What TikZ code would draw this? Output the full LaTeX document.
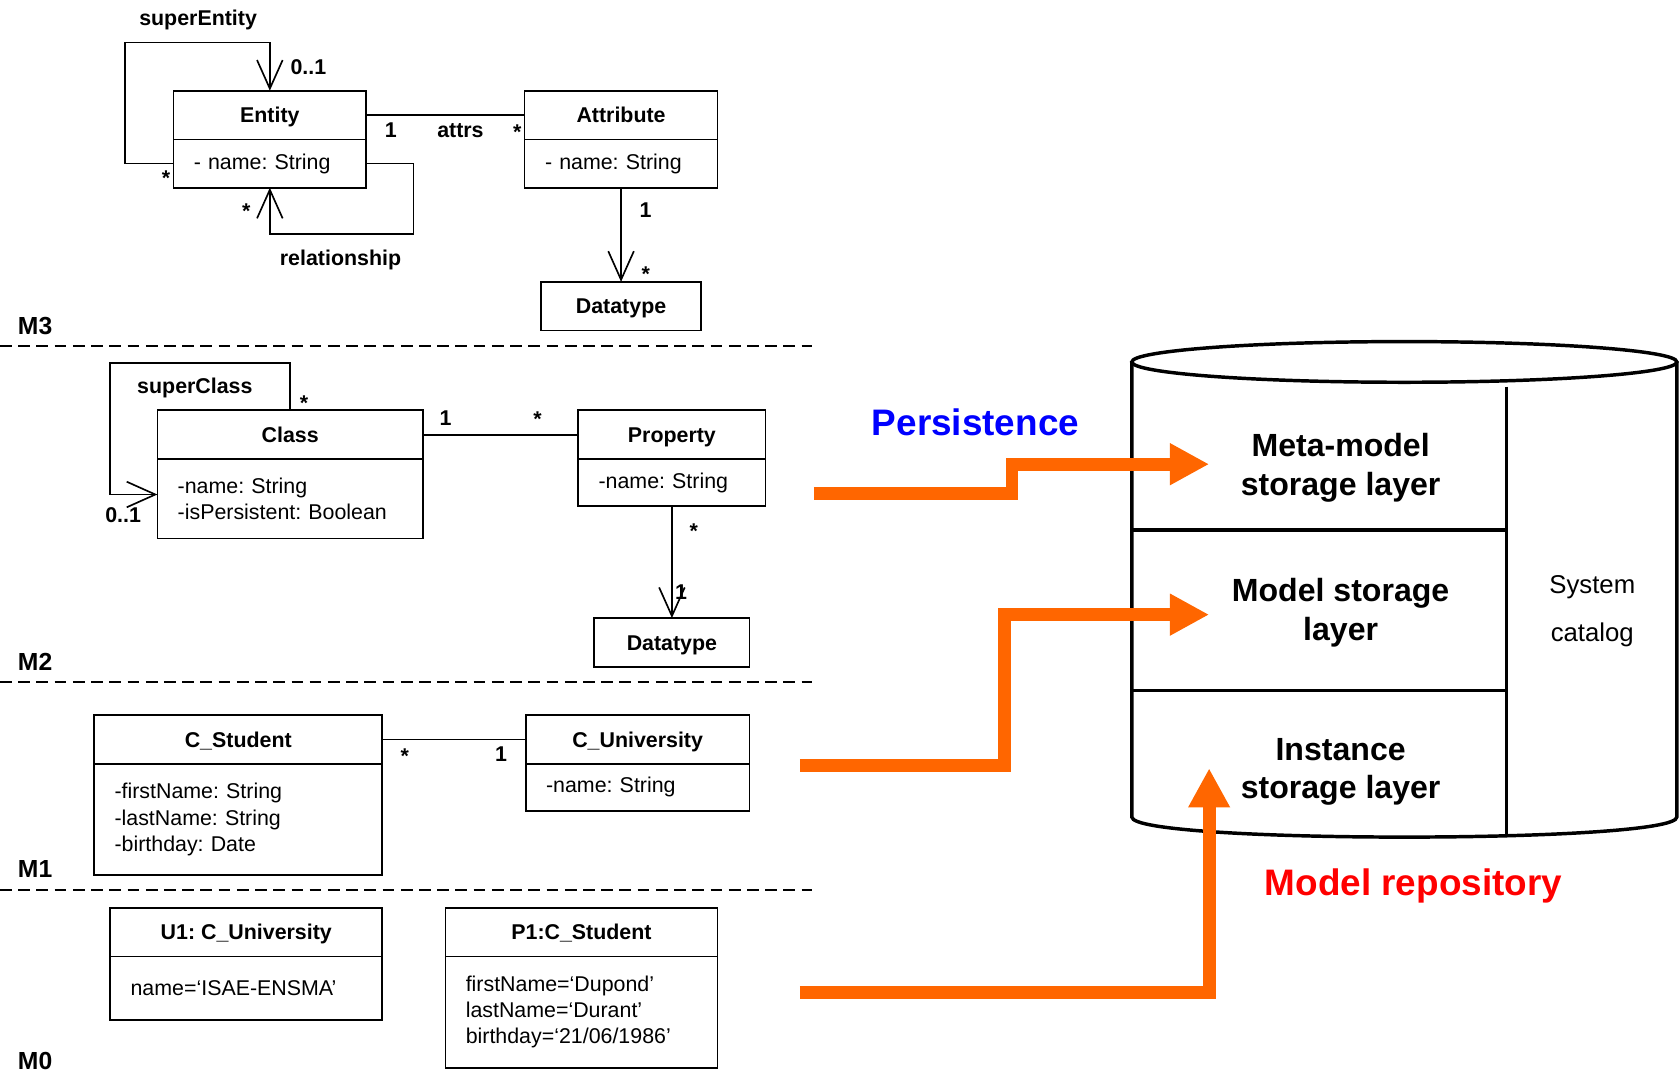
\documentclass[tikz,border=0pt]{standalone}
\usepackage{fontspec}
\setmainfont{Liberation Sans}
\usepackage{tikz}
\usetikzlibrary{arrows.meta, positioning}
\usepackage{xcolor}

\definecolor{persistorange}{RGB}{255,102,0}
\definecolor{persistblue}{RGB}{0,0,255}
\definecolor{repored}{RGB}{255,0,0}

\newcommand{\umlfont}{\fontsize{14.2pt}{17.4pt}\selectfont}
\newcommand{\tagfont}{\fontsize{16.4pt}{19pt}\selectfont}
\newcommand{\storefont}{\fontsize{21.3pt}{25.6pt}\selectfont}
\newcommand{\catfont}{\fontsize{17.1pt}{32pt}\selectfont}
\newcommand{\bigfont}{\fontsize{24.5pt}{28pt}\selectfont}
\frenchspacing

\begin{document}
\begin{tikzpicture}[
        x=0.025cm, y=-0.025cm,
        >={Straight Barb[length=19pt, width=17pt]},
        line width=1.1pt,
        classhead/.style={rectangle, draw, outer sep=0pt, inner sep=0pt, minimum height=1.14cm, text height=10.2pt, text depth=0pt, font=\umlfont\bfseries},
        classbody/.style={rectangle, draw, outer sep=0pt, inner xsep=0.475cm, inner ysep=0pt, align=left, font=\umlfont},
        lbl/.style={font=\umlfont\bfseries, inner sep=0pt, text height=10.2pt, text depth=0pt},
        tag/.style={font=\tagfont\bfseries, anchor=west, inner sep=0pt},
        metaline/.style={dash pattern=on 7.8pt off 4.3pt, line width=1.4pt},
        storetext/.style={font=\storefont\bfseries, align=center, minimum width=6.1cm, inner sep=0pt, text depth=0pt},
        cyl/.style={line width=2.3pt},
        persist/.style={-{Triangle[length=26pt, width=26pt]}, draw=persistorange, line width=8.5pt}
    ]
        \useasboundingbox (0,0) rectangle (1568,1005);

        % M3 : meta-meta-model
        \node[classhead, minimum width=4.5cm] (entity) at (252,107.5) {Entity};
        \node[classbody, text width=3.55cm, minimum height=1.125cm, below=0pt of entity] (entitybody) {- name: String};
        \node[classhead, minimum width=4.5cm] (attribute) at (580,107.5) {Attribute};
        \node[classbody, text width=3.55cm, minimum height=1.125cm, below=0pt of attribute] (attributebody) {- name: String};
        \node[classhead, minimum width=3.725cm] (datatype3) at (580,286) {Datatype};

        \draw[->] (entitybody.west) -- ++(-45,0) |- ([yshift=1.125cm]entity.north) -- (entity.north);
        \draw[->] (entitybody.east) -- ++(44,0) |- ([yshift=-1.075cm]entitybody.south) -- (entitybody.south);
        \draw (entity.east) -- (attribute.west);
        \draw[->] (attributebody.south) -- (datatype3.north);

        \node[lbl] (superentity) at (185,17) {superEntity};
        \node[lbl] (superentitymax) at (288,62) {0..1};
        \node[lbl] (superentitymin) at (155,166) {*};
        \node[lbl] (relmin) at (230,197) {*};
        \node[lbl] (relationship) at (318,241) {relationship};
        \node[lbl] (attrsone) at (365,121) {1};
        \node[lbl] (attrs) at (430,121) {attrs};
        \node[lbl] (attrsmany) at (483,123) {*};
        \node[lbl] (typeone) at (603,196) {1};
        \node[lbl] (typemany) at (603,256) {*};

        \node[tag] (m3) at (16,304) {M3};
        \draw[metaline] (0,323) -- (758,323);

        % M2 : meta-model
        \node[classhead, minimum width=6.2cm] (class) at (271,406) {Class};
        \node[classbody, text width=5.25cm, minimum height=1.85cm, below=0pt of class] (classbody) {-name: String\\-isPersistent: Boolean};
        \node[classhead, minimum width=4.375cm] (property) at (627.5,406) {Property};
        \node[classbody, text width=3.425cm, minimum height=1.1cm, below=0pt of property] (propertybody) {-name: String};
        \node[classhead, minimum width=3.625cm] (datatype2) at (627.5,600) {Datatype};

        \draw[->] (class.north) -- ++(0,-44) -- ++(-168,0) |- ([yshift=0.1cm]classbody.west);
        \draw (class.east) -- (property.west);
        \draw[->] (propertybody.south) -- (datatype2.north);

        \node[lbl] (superclass) at (182,360) {superClass};
        \node[lbl] (superclassmin) at (284,376) {*};
        \node[lbl] (superclassmax) at (115,481) {0..1};
        \node[lbl] (propone) at (416,390) {1};
        \node[lbl] (propmany) at (502,391) {*};
        \node[lbl] (ptypemany) at (648,496) {*};
        \node[lbl] (ptypeone) at (636,553) {1};

        \node[tag] (m2) at (16,618) {M2};
        \draw[metaline] (0,637) -- (758,637);

        % M1 : model
        \node[classhead, minimum width=6.725cm] (student) at (222.5,690.5) {C\_Student};
        \node[classbody, text width=5.775cm, minimum height=2.6cm, below=0pt of student] (studentbody) {-firstName: String\\-lastName: String\\-birthday: Date};
        \node[classhead, minimum width=5.225cm] (university) at (595.5,690.5) {C\_University};
        \node[classbody, text width=4.275cm, minimum height=1.1cm, below=0pt of university] (universitybody) {-name: String};

        \draw (student.east) -- (university.west);

        \node[lbl] (studmany) at (378,706) {*};
        \node[lbl] (univone) at (468,704) {1};

        \node[tag] (m1) at (16,812) {M1};
        \draw[metaline] (0,831) -- (758,831);

        % M0 : instances
        \node[classhead, minimum width=6.35cm] (uone) at (230,870.5) {U1: C\_University};
        \node[classbody, text width=5.4cm, minimum height=1.475cm, below=0pt of uone] (uonebody) {name=‘ISAE-ENSMA’};
        \node[classhead, minimum width=6.35cm] (pone) at (543,870.5) {P1:C\_Student};
        \node[classbody, text width=5.4cm, minimum height=2.6cm, below=0pt of pone] (ponebody) {firstName=‘Dupond’\\lastName=‘Durant’\\birthday=‘21/06/1986’};

        \node[tag] (m0) at (16,991) {M0};

        % Model repository
        \draw[cyl] (1311.5,338) ellipse [x radius=254.5, y radius=19];
        \draw[cyl] (1057,338) -- (1057,763) .. controls (1057,788) and (1566,788) .. (1566,763) -- (1566,338);
        \draw[cyl] (1407,361) -- (1407,781);
        \draw[cyl] (1057,495) -- (1407,495);
        \draw[cyl] (1057,645) -- (1407,645);

        \node[storetext] (meta) at (1252,433.5) {Meta-model\\storage layer};
        \node[storetext] (model) at (1252,569) {Model storage\\layer};
        \node[storetext] (instance) at (1252,717.5) {Instance\\storage layer};
        \node[font=\catfont, align=center, inner sep=0pt, text depth=0pt] (catalog) at (1487,568) {System\\catalog};

        \node[font=\bigfont\bfseries, text=persistblue] (persistence) at (911,394) {Persistence};
        \node[font=\bigfont\bfseries, text=repored] (repository) at (1320,827) {Model repository};

        % Persistence flows
        \coordinate (fromM2) at (760,461);
        \coordinate (fromM1) at (747,715);
        \coordinate (fromM0) at (747,927);
        \draw[persist] (fromM2) -- ++(185,0) |- (meta.west);
        \draw[persist] (fromM1) -- ++(191,0) |- ([yshift=-0.125cm]model.west);
        \draw[persist] (fromM0) -| (instance.west);

    \end{tikzpicture}
\end{document}
